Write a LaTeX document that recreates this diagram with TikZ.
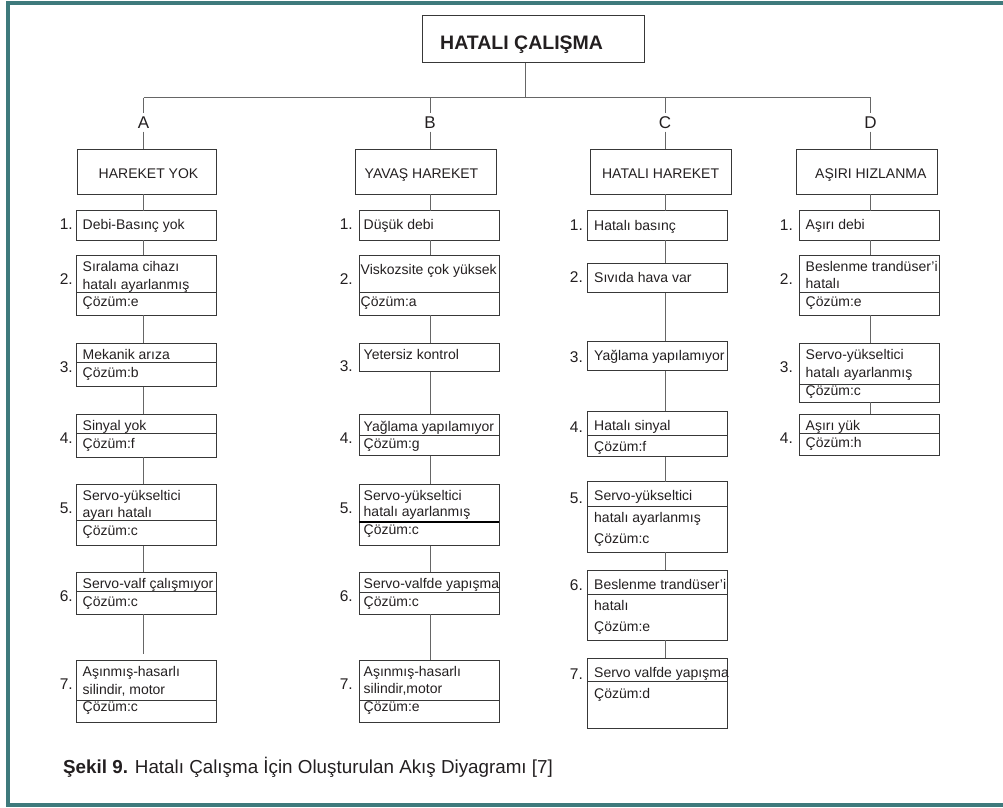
\documentclass[tikz,border=0pt]{standalone}
\usepackage{fontspec}
\setmainfont{Liberation Sans}
\definecolor{frame}{RGB}{62,122,124}
\definecolor{ink}{RGB}{35,31,32}
\tikzset{
  box/.style={draw=black!78, line width=0.9pt, inner sep=0pt, outer sep=0pt, rectangle},
  divline/.style={draw=black!78, line width=0.9pt},
  conn/.style={draw=black!60, line width=1pt},
  txt/.style={anchor=base west, inner sep=0pt, text=ink, font=\fontsize{14}{16}\selectfont},
  num/.style={anchor=base east, inner sep=0pt, text=ink, font=\fontsize{15.5}{17}\selectfont},
  headtxt/.style={anchor=base, inner sep=0pt, text=ink, font=\fontsize{14}{16}\selectfont},
  letter/.style={anchor=base, inner sep=3pt, text=ink, font=\fontsize{17}{19}\selectfont}
}
\newcommand\mybox[5]{\node[box, minimum width={(#4-#2)*1pt}, minimum height={(#5-#3)*1pt}] (#1) at ({(#2+#4)/2},{(#3+#5)/2}) {};}
\newcommand\mytext[4]{\node[txt] (#1) at (#2,#3) {#4};}
\newcommand\mynum[4]{\node[num] (#1) at (#2,#3) {#4};}
\newcommand\mydiv[2]{\draw[divline] (#1.west |- 0,#2) -- (#1.east |- 0,#2);}
\begin{document}
\begin{tikzpicture}[x=1pt,y=-1pt]
\useasboundingbox (0,0) rectangle (1003,807);
% frame (open on the right)
\draw[frame, line width=4pt, line join=miter] (1003,3) -- (8,3) -- (8,804.5) -- (1003,804.5);

% top
\mybox{top}{422.3}{15.7}{644}{62.7}
\node[anchor=base west, inner sep=0pt, text=ink, font=\fontsize{19.5}{21}\selectfont\bfseries] (toptxt) at (440,49.3) {HATALI ÇALIŞMA};
\coordinate (hT) at (525,97.7);
\coordinate (hA) at (143.5,97.7);
\coordinate (hB) at (430,97.7);
\coordinate (hC) at (665,97.7);
\coordinate (hD) at (870.5,97.7);
\draw[conn] (top.south -| hT) -- (hT);
\draw[conn] (hA) -- (hD);

% letters
\node[letter] (lA) at (143.5,128.3) {A};
\node[letter] (lB) at (430,128.3) {B};
\node[letter] (lC) at (665,128.3) {C};
\node[letter] (lD) at (870.5,128.3) {D};

% level 1
\mybox{L1A}{77}{149}{216}{194}
\mybox{L1B}{355}{149}{496}{194}
\mybox{L1C}{590}{149}{731}{194}
\mybox{L1D}{796}{149}{937}{194}
\node[headtxt] (L1At) at (148.5,178.3) {HAREKET YOK};
\node[headtxt] (L1Bt) at (421.5,178.3) {YAVAŞ HAREKET};
\node[headtxt] (L1Ct) at (660.6,178.3) {HATALI HAREKET};
\node[headtxt] (L1Dt) at (870.8,178.3) {AŞIRI HIZLANMA};

\foreach \c/\l/\b in {hA/lA/L1A, hB/lB/L1B, hC/lC/L1C, hD/lD/L1D}{
  \draw[conn] (\c) -- (\l.north);
  \draw[conn] (\l.south) -- (\l.south |- \b.north);
}

% ---------- column A ----------
\mybox{A1}{76.7}{210.7}{216.7}{240}
\mybox{A2}{76.7}{255}{216.7}{315}
\mybox{A3}{76.7}{343.3}{216.7}{386.7}
\mybox{A4}{76.7}{414}{216.7}{457.3}
\mybox{A5}{76.7}{484.3}{216.7}{545.7}
\mybox{A6}{76.7}{572.3}{216.7}{614}
\mybox{A7}{76.7}{660}{216.7}{722.3}
\mydiv{A2}{292.3}
\mydiv{A3}{362.3}
\mydiv{A4}{433.3}
\mydiv{A5}{520.7}
\mydiv{A6}{591.7}
\mydiv{A7}{700}
\mytext{A1a}{82.5}{229.3}{Debi-Basınç yok}
\mytext{A2a}{82.5}{271.7}{Sıralama cihazı}
\mytext{A2b}{82.5}{289.3}{hatalı ayarlanmış}
\mytext{A2c}{82.5}{306.7}{Çözüm:e}
\mytext{A3a}{82.5}{359}{Mekanik arıza}
\mytext{A3b}{82.5}{377.3}{Çözüm:b}
\mytext{A4a}{82.5}{430}{Sinyal yok}
\mytext{A4b}{82.5}{448.3}{Çözüm:f}
\mytext{A5a}{82.5}{500}{Servo-yükseltici}
\mytext{A5b}{82.5}{517.7}{ayarı hatalı}
\mytext{A5c}{82.5}{535}{Çözüm:c}
\mytext{A6a}{82.5}{588.3}{Servo-valf çalışmıyor}
\mytext{A6b}{82.5}{606.7}{Çözüm:c}
\mytext{A7a}{82.5}{676.7}{Aşınmış-hasarlı}
\mytext{A7b}{82.5}{694}{silindir, motor}
\mytext{A7c}{82.5}{711.7}{Çözüm:c}
\mynum{nA1}{73}{229.5}{1.}
\mynum{nA2}{73}{284}{2.}
\mynum{nA3}{73}{372.7}{3.}
\mynum{nA4}{73}{443.3}{4.}
\mynum{nA5}{73}{513.3}{5.}
\mynum{nA6}{73}{601.7}{6.}
\mynum{nA7}{73}{689}{7.}

% ---------- column B ----------
\mybox{B1}{359}{210.7}{499}{240}
\mybox{B2}{359}{255}{499}{315}
\mybox{B3}{359}{343.3}{499}{371.7}
\mybox{B4}{359}{414}{499}{455.7}
\mybox{B5}{359}{484.3}{499}{545.7}
\mybox{B6}{359}{572.3}{499}{614}
\mybox{B7}{359}{660}{499}{722.3}
\mydiv{B2}{292.3}
\mydiv{B4}{435}
\draw[divline, draw=black, line width=1.8pt] (B5.west |- 0,521.7) -- (B5.east |- 0,521.7);
\mydiv{B6}{592.3}
\mydiv{B7}{700}
\mytext{B1a}{363.5}{229.3}{Düşük debi}
\mytext{B2a}{360.5}{274}{Viskozsite çok yüksek}
\mytext{B2b}{360.5}{306.7}{Çözüm:a}
\mytext{B3a}{363.5}{359}{Yetersiz kontrol}
\mytext{B4a}{363.5}{431}{Yağlama yapılamıyor}
\mytext{B4b}{363.5}{448.3}{Çözüm:g}
\mytext{B5a}{363.5}{500}{Servo-yükseltici}
\mytext{B5b}{363.5}{516.7}{hatalı ayarlanmış}
\mytext{B5c}{363.5}{534.3}{Çözüm:c}
\mytext{B6a}{363.5}{588.3}{Servo-valfde yapışma}
\mytext{B6b}{363.5}{606}{Çözüm:c}
\mytext{B7a}{363.5}{676.7}{Aşınmış-hasarlı}
\mytext{B7b}{363.5}{693.3}{silindir,motor}
\mytext{B7c}{363.5}{711.7}{Çözüm:e}
\mynum{nB1}{353}{229.5}{1.}
\mynum{nB2}{353}{284}{2.}
\mynum{nB3}{353}{371.7}{3.}
\mynum{nB4}{353}{443.3}{4.}
\mynum{nB5}{353}{513.3}{5.}
\mynum{nB6}{353}{601.7}{6.}
\mynum{nB7}{353}{689}{7.}

% ---------- column C ----------
\mybox{C1}{587.3}{210.7}{727.7}{240}
\mybox{C2}{587.3}{263.3}{727.7}{292.7}
\mybox{C3}{587.3}{341}{727.7}{370.7}
\mybox{C4}{587.3}{411.3}{727.7}{456.7}
\mybox{C5}{587.3}{481.7}{727.7}{552.3}
\mybox{C6}{587.3}{570}{727.7}{640.3}
\mybox{C7}{587.3}{658.3}{727.7}{728.3}
\mydiv{C4}{435}
\mydiv{C5}{506}
\mydiv{C6}{594}
\mydiv{C7}{681.7}
\mytext{C1a}{594}{230}{Hatalı basınç}
\mytext{C2a}{594}{282.3}{Sıvıda hava var}
\mytext{C3a}{594}{360.7}{Yağlama yapılamıyor}
\mytext{C4a}{594}{430.7}{Hatalı sinyal}
\mytext{C4b}{594}{451.7}{Çözüm:f}
\mytext{C5a}{594}{500.7}{Servo-yükseltici}
\mytext{C5b}{594}{522.3}{hatalı ayarlanmış}
\mytext{C5c}{594}{543.3}{Çözüm:c}
\mytext{C6a}{594}{589.3}{Beslenme trandüser’i}
\mytext{C6b}{594}{610.7}{hatalı}
\mytext{C6c}{594}{631.7}{Çözüm:e}
\mytext{C7a}{594}{677.7}{Servo valfde yapışma}
\mytext{C7b}{594}{698.3}{Çözüm:d}
\mynum{nC1}{583}{230.7}{1.}
\mynum{nC2}{583}{282.7}{2.}
\mynum{nC3}{583}{362.3}{3.}
\mynum{nC4}{583}{432.3}{4.}
\mynum{nC5}{583}{503.3}{5.}
\mynum{nC6}{583}{590.7}{6.}
\mynum{nC7}{583}{679}{7.}

% ---------- column D ----------
\mybox{D1}{799}{210.7}{939}{240}
\mybox{D2}{799}{255}{939}{315}
\mybox{D3}{799}{343.3}{939}{402.3}
\mybox{D4}{799}{414}{939}{455.7}
\mydiv{D2}{292.3}
\mydiv{D3}{384}
\mydiv{D4}{433.3}
\mytext{D1a}{805.5}{229.3}{Aşırı debi}
\mytext{D2a}{805.5}{271.7}{Beslenme trandüser’i}
\mytext{D2b}{805.5}{288.3}{hatalı}
\mytext{D2c}{805.5}{306}{Çözüm:e}
\mytext{D3a}{805.5}{359}{Servo-yükseltici}
\mytext{D3b}{805.5}{377.3}{hatalı ayarlanmış}
\mytext{D3c}{805.5}{395}{Çözüm:c}
\mytext{D4a}{805.5}{430}{Aşırı yük}
\mytext{D4b}{805.5}{447.3}{Çözüm:h}
\mynum{nD1}{793}{230.7}{1.}
\mynum{nD2}{793}{284}{2.}
\mynum{nD3}{793}{372.7}{3.}
\mynum{nD4}{793}{443.3}{4.}

% ---------- connectors ----------
\foreach \c/\p/\q in {hA/L1A/A1, hA/A1/A2, hA/A2/A3, hA/A3/A4, hA/A4/A5, hA/A5/A6,
                      hB/L1B/B1, hB/B1/B2, hB/B2/B3, hB/B3/B4, hB/B4/B5, hB/B5/B6, hB/B6/B7,
                      hC/L1C/C1, hC/C1/C2, hC/C2/C3, hC/C3/C4, hC/C4/C5, hC/C5/C6, hC/C6/C7,
                      hD/L1D/D1, hD/D1/D2, hD/D2/D3, hD/D3/D4}{
  \draw[conn] (\p.south -| \c) -- (\q.north -| \c);
}
\draw[conn, shorten >=6pt] (A6.south -| hA) -- (A7.north -| hA);

% caption
\node[anchor=base west, inner sep=0pt, text=ink, font=\fontsize{18.8}{21}\selectfont] (cap) at (63,773.3) {\textbf{Şekil 9.} Hatalı Çalışma İçin Oluşturulan Akış Diyagramı [7]};
\end{tikzpicture}
\end{document}
